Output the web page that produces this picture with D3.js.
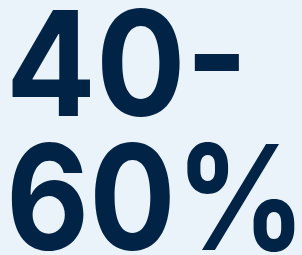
<!DOCTYPE html>
<html><head><meta charset="utf-8">
<script src="https://cdn.jsdelivr.net/npm/d3@7"></script>
<style>html,body{margin:0;padding:0;background:#eaf2fa;overflow:hidden}</style>
</head><body>
<script>
const lines = ["40-", "60%"];

// layout
const W = 302, H = 255;
const lineWidth = [242, 300];
const svg = d3.select("body").append("svg").attr("width", W).attr("height", H);
svg.append("rect").attr("width", W).attr("height", H).attr("fill", "#eaf2fa");
const y = d3.scalePoint().domain(lines).range([116, 250]);
svg.selectAll("text.big").data(lines).join("text")
  .attr("class", "big")
  .attr("x", 6)
  .attr("y", d => y(d))
  .attr("font-family", "Inter, sans-serif")
  .attr("font-weight", 700)
  .attr("font-size", 146)
  .attr("textLength", (d, i) => lineWidth[i])
  .attr("lengthAdjust", "spacingAndGlyphs")
  .attr("fill", "#012345")
  .text(d => d);
</script>
</body></html>
